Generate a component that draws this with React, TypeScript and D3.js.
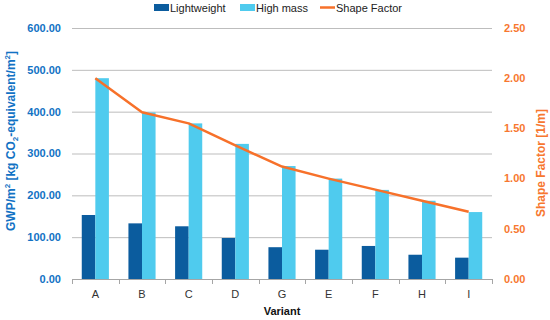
import { useEffect, useRef } from 'react';
import * as d3 from 'd3';

// chart data
const variants = ['A', 'B', 'C', 'D', 'G', 'E', 'F', 'H', 'I'];
const lightweight = [153, 133, 126, 98, 76, 70, 79, 58, 51];
const highMass = [480, 398, 372, 323, 270, 240, 213, 187, 160];
const shapeFactor = [2.0, 1.66, 1.55, 1.33, 1.12, 1.0, 0.89, 0.78, 0.67];
const leftTicks = [0, 100, 200, 300, 400, 500, 600];
const rightTicks = [0, 0.5, 1.0, 1.5, 2.0, 2.5];

const BLUE_DARK = '#0B5C9E';
const BLUE_LIGHT = '#4FCBEE';
const ORANGE = '#F7712A';
const LEFT_COLOR = '#1272C4';
const RIGHT_COLOR = '#F7772F';
const FONT = "'Liberation Sans', Arial, sans-serif";

export default function App() {
  const ref = useRef<SVGSVGElement | null>(null);

  useEffect(() => {
    if (!ref.current) return;
    const svg = d3.select(ref.current);
    svg.selectAll('*').remove();

    const left = 72, right = 492, top = 28, bottom = 279;

    const x = d3.scaleBand<string>().domain(variants).range([left, right]).padding(0);
    const inner = d3.scaleBand<string>().domain(['lw', 'hm']).range([0, x.bandwidth()]).paddingInner(0).paddingOuter(0.72);
    const y = d3.scaleLinear().domain([0, 600]).range([bottom, top]);
    const y2 = d3.scaleLinear().domain([0, 2.5]).range([bottom, top]);

    // gridlines
    svg.append('g')
      .selectAll('line')
      .data(leftTicks.slice(1))
      .enter()
      .append('line')
      .attr('x1', left)
      .attr('x2', right)
      .attr('y1', d => y(d) + 0.5)
      .attr('y2', d => y(d) + 0.5)
      .attr('stroke', '#BDBDBD')
      .attr('stroke-width', 1);

    // bars
    const groups = svg.append('g')
      .selectAll('g')
      .data(variants)
      .enter()
      .append('g')
      .attr('transform', d => `translate(${x(d)},0)`);

    groups.append('rect')
      .attr('x', inner('lw')!)
      .attr('y', (_, i) => y(lightweight[i]))
      .attr('width', inner.bandwidth())
      .attr('height', (_, i) => bottom - y(lightweight[i]))
      .attr('fill', BLUE_DARK);

    groups.append('rect')
      .attr('x', inner('hm')!)
      .attr('y', (_, i) => y(highMass[i]))
      .attr('width', inner.bandwidth())
      .attr('height', (_, i) => bottom - y(highMass[i]))
      .attr('fill', BLUE_LIGHT);

    // x axis baseline and ticks
    const xAxis = svg.append('g');
    xAxis.append('line')
      .attr('x1', left).attr('x2', right)
      .attr('y1', bottom + 0.5).attr('y2', bottom + 0.5)
      .attr('stroke', '#A6A6A6');
    xAxis.selectAll('.tick')
      .data(variants.concat(['_end']))
      .enter()
      .append('line')
      .attr('x1', (d, i) => Math.round(left + i * x.bandwidth()) + 0.5)
      .attr('x2', (d, i) => Math.round(left + i * x.bandwidth()) + 0.5)
      .attr('y1', bottom)
      .attr('y2', bottom + 5)
      .attr('stroke', '#A6A6A6');
    xAxis.selectAll('text')
      .data(variants)
      .enter()
      .append('text')
      .attr('x', d => x(d)! + x.bandwidth() / 2)
      .attr('y', 298)
      .attr('text-anchor', 'middle')
      .style('font-family', FONT)
      .style('font-size', '11px')
      .style('fill', '#333')
      .text(d => d);

    // shape factor line
    const line = d3.line<number>()
      .x((_, i) => x(variants[i])! + x.bandwidth() / 2)
      .y(d => y2(d));
    svg.append('path')
      .datum(shapeFactor)
      .attr('d', line)
      .attr('fill', 'none')
      .attr('stroke', ORANGE)
      .attr('stroke-width', 2.5)
      .attr('stroke-linejoin', 'round');

    // left axis labels
    svg.append('g')
      .selectAll('text')
      .data(leftTicks)
      .enter()
      .append('text')
      .attr('x', 61)
      .attr('y', d => y(d))
      .attr('dy', '0.35em')
      .attr('text-anchor', 'end')
      .style('font-family', FONT)
      .style('font-size', '11px')
      .style('font-weight', 'bold')
      .style('fill', LEFT_COLOR)
      .text(d => d3.format('.2f')(d));

    // right axis labels
    svg.append('g')
      .selectAll('text')
      .data(rightTicks)
      .enter()
      .append('text')
      .attr('x', 504)
      .attr('y', d => y2(d))
      .attr('dy', '0.35em')
      .attr('text-anchor', 'start')
      .style('font-family', FONT)
      .style('font-size', '11px')
      .style('font-weight', 'bold')
      .style('fill', RIGHT_COLOR)
      .text(d => d3.format('.2f')(d));

    // axis titles
    const lt = svg.append('text')
      .attr('transform', 'translate(15,141) rotate(-90)')
      .attr('text-anchor', 'middle')
      .style('font-family', FONT)
      .style('font-size', '12px')
      .style('font-weight', 'bold')
      .style('fill', LEFT_COLOR);
    lt.append('tspan').text('GWP/m');
    lt.append('tspan').attr('dy', -5).style('font-size', '8px').text('2');
    lt.append('tspan').attr('dy', 5).text(' [kg CO');
    lt.append('tspan').attr('dy', 3).style('font-size', '8px').text('2');
    lt.append('tspan').attr('dy', -3).text('-equivalent/m');
    lt.append('tspan').attr('dy', -5).style('font-size', '8px').text('2');
    lt.append('tspan').attr('dy', 5).text(']');

    svg.append('text')
      .attr('transform', 'translate(545,163) rotate(-90)')
      .attr('text-anchor', 'middle')
      .style('font-family', FONT)
      .style('font-size', '12px')
      .style('font-weight', 'bold')
      .style('fill', RIGHT_COLOR)
      .text('Shape Factor [1/m]');

    svg.append('text')
      .attr('x', 282)
      .attr('y', 315)
      .attr('text-anchor', 'middle')
      .style('font-family', FONT)
      .style('font-size', '11px')
      .style('font-weight', 'bold')
      .style('fill', '#111')
      .text('Variant');

    // legend
    const legend = svg.append('g').style('font-family', FONT).style('font-size', '11px');
    const items = [
      { label: 'Lightweight', color: BLUE_DARK, x: 154, type: 'rect' },
      { label: 'High mass', color: BLUE_LIGHT, x: 240, type: 'rect' },
      { label: 'Shape Factor', color: ORANGE, x: 320, type: 'line' },
    ];
    items.forEach(it => {
      if (it.type === 'rect') {
        legend.append('rect').attr('x', it.x).attr('y', 4).attr('width', 15).attr('height', 7).attr('fill', it.color);
      } else {
        legend.append('line').attr('x1', it.x).attr('x2', it.x + 15).attr('y1', 7.5).attr('y2', 7.5)
          .attr('stroke', it.color).attr('stroke-width', 2.5);
      }
      legend.append('text')
        .attr('x', it.x + 16)
        .attr('y', 8)
        .attr('dy', '0.35em')
        .style('fill', '#222')
        .text(it.label);
    });
  }, []);

  return (
    <svg ref={ref} width={550} height={320} style={{ position: 'absolute', left: 0, top: 0, background: '#fff' }} />
  );
}
